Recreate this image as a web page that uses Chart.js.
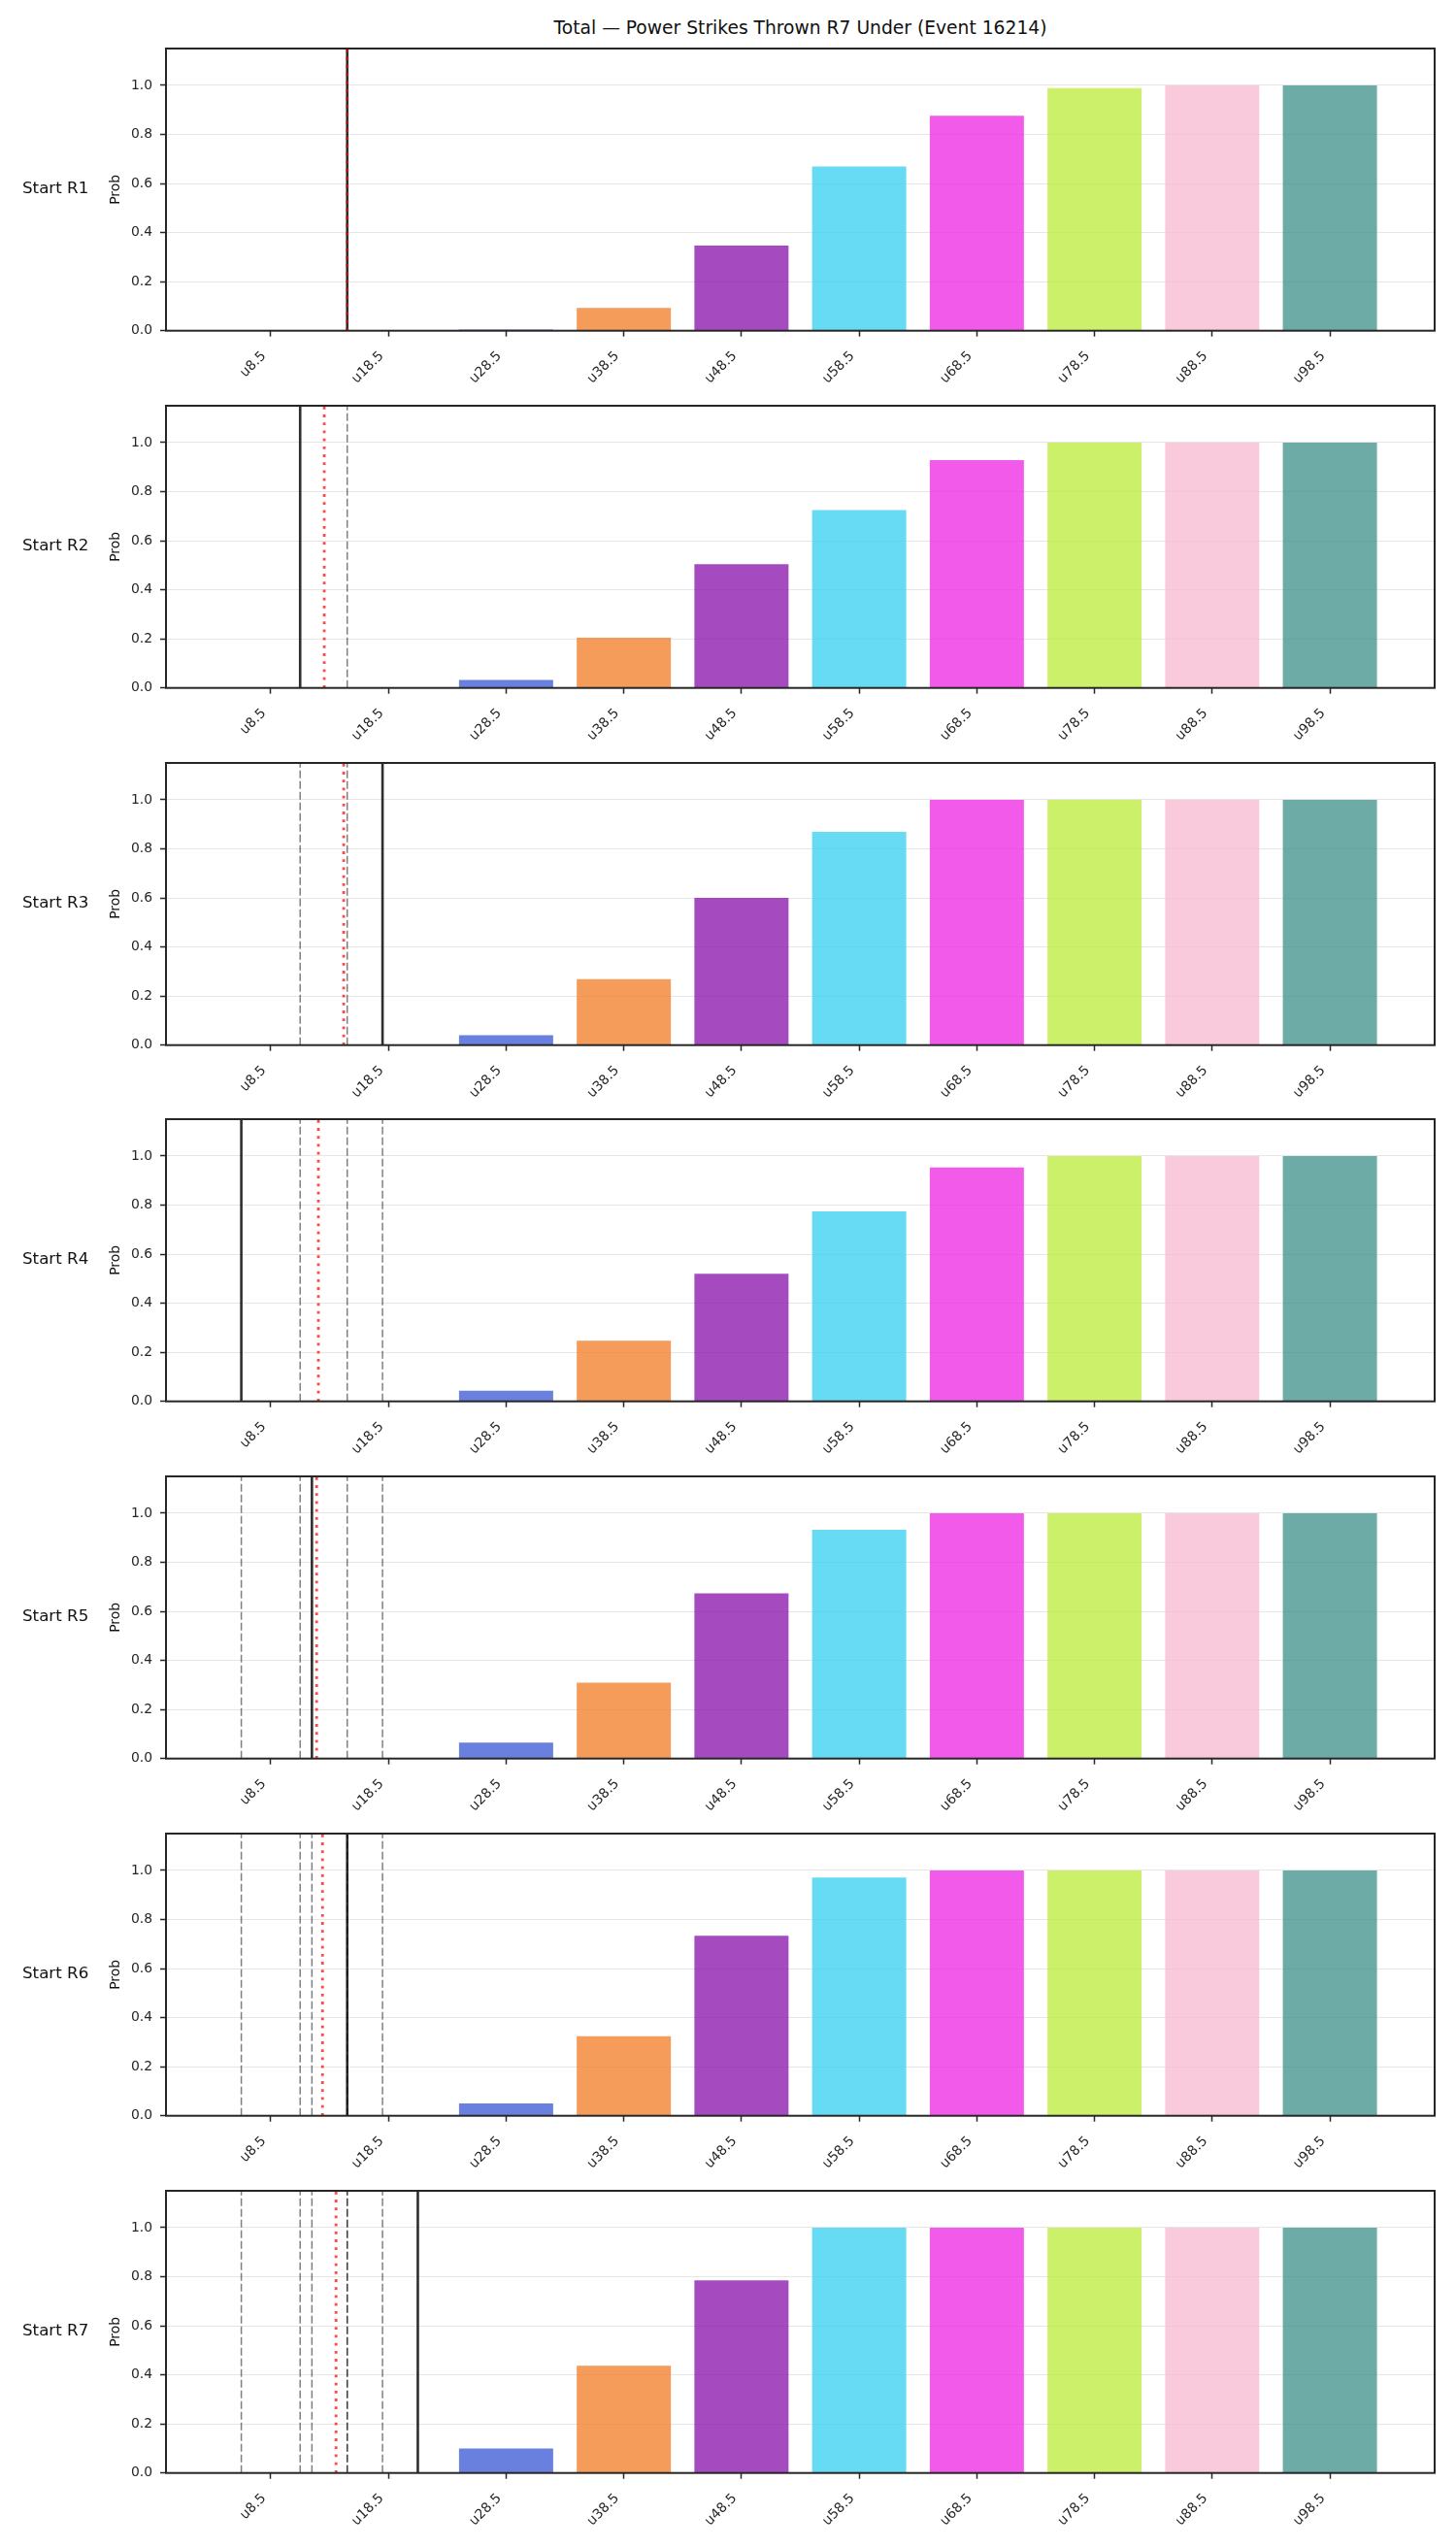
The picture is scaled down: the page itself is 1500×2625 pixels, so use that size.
<!DOCTYPE html>
<html>
<head>
<meta charset="utf-8">
<script src="https://cdn.jsdelivr.net/npm/chart.js@4.4.1/dist/chart.umd.min.js"></script>
<style>
  body { margin: 0; background: #fff; }
  #wrap { position: relative; width: 1500px; height: 2625px; }
  #wrap canvas { position: absolute; left: 0; }
  #title {
    position: absolute; left: 171px; width: 1307px; top: 18px;
    text-align: center; font: 18.7px/22px "DejaVu Sans", sans-serif; color: #111;
  }
</style>
</head>
<body>
<div id="wrap">
  <div id="title">Total — Power Strikes Thrown R7 Under (Event 16214)</div>
</div>
<script>
// lines offered (x categories) and where they sit on the numeric strike axis
const lineLabels = ['u8.5', 'u18.5', 'u28.5', 'u38.5', 'u48.5', 'u58.5', 'u68.5', 'u78.5', 'u88.5', 'u98.5'];
const linePositions = [8.5, 18.5, 28.5, 38.5, 48.5, 58.5, 68.5, 78.5, 88.5, 98.5];
const rowLabels = ['Start R1', 'Start R2', 'Start R3', 'Start R4', 'Start R5', 'Start R6', 'Start R7'];

// P(under) per line, one array per starting round
const probR1 = [0, 0, 0.005, 0.093, 0.347, 0.669, 0.876, 0.989, 1.0, 1.0];
const probR2 = [0, 0, 0.032, 0.205, 0.504, 0.725, 0.928, 1.0, 1.0, 1.0];
const probR3 = [0, 0, 0.040, 0.269, 0.600, 0.869, 1.0, 1.0, 1.0, 1.0];
const probR4 = [0, 0, 0.043, 0.247, 0.520, 0.774, 0.953, 1.0, 1.0, 1.0];
const probR5 = [0, 0, 0.065, 0.309, 0.673, 0.932, 1.0, 1.0, 1.0, 1.0];
const probR6 = [0, 0, 0.050, 0.324, 0.734, 0.971, 1.0, 1.0, 1.0, 1.0];
const probR7 = [0, 0, 0.100, 0.437, 0.785, 1.0, 1.0, 1.0, 1.0, 1.0];
const probRows = [probR1, probR2, probR3, probR4, probR5, probR6, probR7];

// vertical markers: strikes thrown in each round, and the running mean
const roundValues = [15, 11, 18, 6, 12, 15, 21];
const runningMeans = [15, 13.05, 14.7, 12.55, 12.4, 12.9, 14.05];

const yTicks = [0, 0.2, 0.4, 0.6, 0.8, 1.0];

const barColors = [
  'rgba(214,39,40,0.8)', 'rgba(148,103,189,0.8)',
  'rgba(69,96,214,0.8)', 'rgba(243,131,49,0.8)', 'rgba(143,30,175,0.8)',
  'rgba(65,210,241,0.8)', 'rgba(239,50,228,0.8)', 'rgba(193,236,69,0.8)',
  'rgba(248,189,210,0.8)', 'rgba(73,150,144,0.8)'
];

const FONT = '"DejaVu Sans", sans-serif';
const INK = '#262626';
const PITCH = 367.83;

function markerPlugin(row) {
  return {
    id: 'markers' + row,
    afterDatasetsDraw(chart) {
      const { ctx, chartArea: a, scales: { x } } = chart;
      ctx.save();
      ctx.beginPath();
      ctx.rect(a.left, a.top, a.right - a.left, a.bottom - a.top);
      ctx.clip();
      const vline = (v, color, width, dash) => {
        const px = x.getPixelForValue(v);
        ctx.beginPath();
        ctx.strokeStyle = color;
        ctx.lineWidth = width;
        ctx.setLineDash(dash);
        ctx.moveTo(px, a.bottom);
        ctx.lineTo(px, a.top);
        ctx.stroke();
      };
      for (let r = 0; r < row; r++) vline(roundValues[r], 'rgba(0,0,0,0.5)', 1.5, [8, 3]);
      vline(roundValues[row], 'rgba(0,0,0,0.82)', 2.6, []);
      vline(runningMeans[row], 'rgba(255,0,0,0.72)', 2.8, [2.8, 5.4]);
      ctx.restore();
    },
    afterDraw(chart) {
      const { ctx, chartArea: a } = chart;
      ctx.save();
      ctx.strokeStyle = INK;
      ctx.lineWidth = 2;
      ctx.strokeRect(a.left, a.top, a.right - a.left, a.bottom - a.top);
      const cy = (a.top + a.bottom) / 2;
      ctx.fillStyle = '#111';
      ctx.font = '16.7px ' + FONT;
      ctx.textAlign = 'left';
      ctx.textBaseline = 'middle';
      ctx.fillText(rowLabels[row], 23, cy - 1);
      ctx.translate(123, cy);
      ctx.rotate(-Math.PI / 2);
      ctx.font = '13.9px ' + FONT;
      ctx.textAlign = 'center';
      ctx.textBaseline = 'alphabetic';
      ctx.fillText('Prob', 0, 0);
      ctx.restore();
    }
  };
}

const wrap = document.getElementById('wrap');

probRows.forEach((probs, row) => {
  const canvas = document.createElement('canvas');
  canvas.width = 1500;
  canvas.height = 368;
  canvas.style.top = Math.round(30 + row * PITCH) + 'px';
  wrap.appendChild(canvas);

  new Chart(canvas, {
    type: 'bar',
    data: {
      datasets: [{
        data: linePositions.map((v, i) => ({ x: v, y: probs[i] })),
        backgroundColor: barColors,
        borderWidth: 0,
        categoryPercentage: 0.8,
        barPercentage: 1.0
      }]
    },
    options: {
      responsive: false,
      animation: false,
      layout: { padding: { left: 0, right: 22, top: 20, bottom: 0 } },
      plugins: { legend: { display: false }, tooltip: { enabled: false } },
      scales: {
        x: {
          type: 'linear',
          min: -0.4,
          max: 107.4,
          offset: false,
          afterBuildTicks: s => { s.ticks = linePositions.map(v => ({ value: v })); },
          afterFit: s => { s.height = 57.3; },
          border: { display: false },
          grid: {
            offset: false, drawOnChartArea: false, drawTicks: true,
            tickLength: 6, tickColor: INK, tickWidth: 1.5
          },
          ticks: {
            autoSkip: false, minRotation: 45, maxRotation: 45,
            padding: 12, labelOffset: -7, color: INK,
            font: { family: FONT, size: 13.9 },
            callback: (v, i) => lineLabels[i]
          }
        },
        y: {
          min: 0,
          max: 1.15,
          afterBuildTicks: s => { s.ticks = yTicks.map(v => ({ value: v })); },
          afterFit: s => { s.width = 171; },
          border: { display: false },
          grid: { color: '#e6e6e6', lineWidth: 1, tickColor: INK, tickLength: 6, tickWidth: 1.5 },
          ticks: {
            padding: 8, color: INK,
            font: { family: FONT, size: 13.9 },
            callback: v => v.toFixed(1)
          }
        }
      }
    },
    plugins: [markerPlugin(row)]
  });
});
</script>
</body>
</html>
